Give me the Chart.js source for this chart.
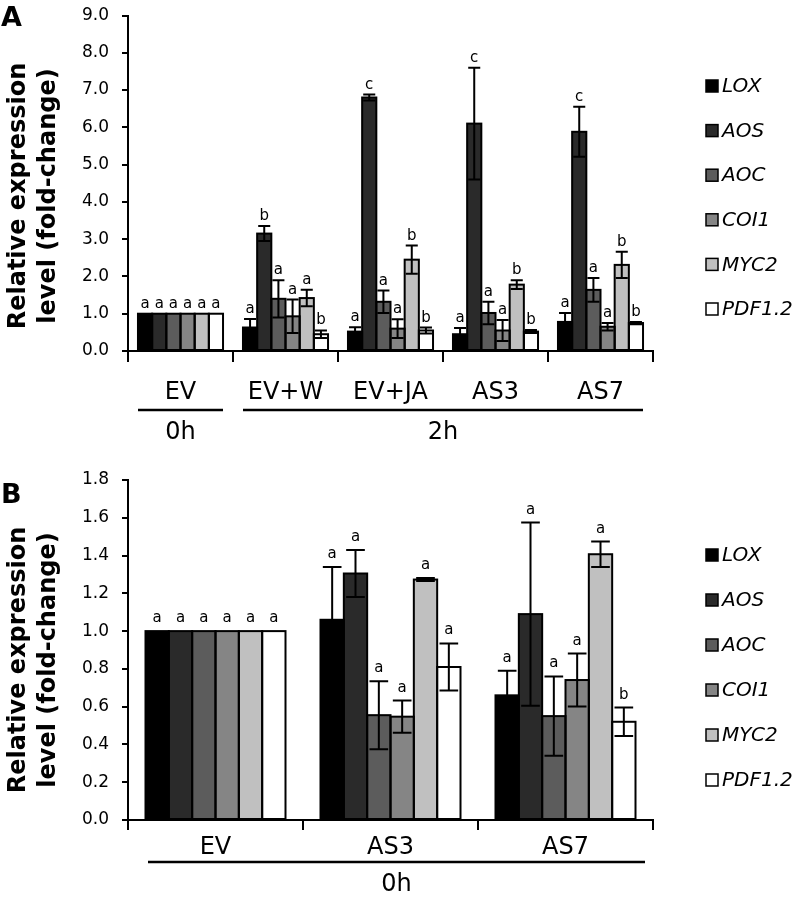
<!DOCTYPE html>
<html><head><meta charset="utf-8">
<script src="https://cdn.jsdelivr.net/npm/chart.js@4.4.1/dist/chart.umd.min.js"></script>
<style>
html,body{margin:0;padding:0;background:#fff;overflow:hidden;}
#cA{position:absolute;left:0;top:0;}
#cB{position:absolute;left:0;top:460px;}
</style></head><body>
<canvas id="cA" width="793" height="460"></canvas>
<canvas id="cB" width="793" height="439"></canvas>
<script>
// ---------- shared ----------
const genes = ['LOX', 'AOS', 'AOC', 'COI1', 'MYC2', 'PDF1.2'];
const geneColors = ['#000000', '#2a2a2a', '#5c5c5c', '#858585', '#c0c0c0', '#ffffff'];
const yTitle = ['Relative expression', 'level (fold-change)'];

// ---------- panel A ----------
const catsA = ['EV', 'EV+W', 'EV+JA', 'AS3', 'AS7'];
const groupsA = [{ label: '0h', from: 0, to: 0 }, { label: '2h', from: 1, to: 4 }];
const yMinA = 0, yMaxA = 9, yStepA = 1;
const loxA  = [1.0, 0.63, 0.52, 0.45, 0.78];
const aosA  = [1.0, 3.15, 6.80, 6.10, 5.88];
const aocA  = [1.0, 1.40, 1.32, 1.02, 1.64];
const coi1A = [1.0, 0.93, 0.60, 0.55, 0.65];
const myc2A = [1.0, 1.42, 2.45, 1.78, 2.31];
const pdfA  = [1.0, 0.45, 0.55, 0.52, 0.75];
const loxErrA  = [0, 0.23, 0.12, 0.17, 0.24];
const aosErrA  = [0, 0.20, 0.08, 1.50, 0.67];
const aocErrA  = [0, 0.50, 0.30, 0.30, 0.32];
const coi1ErrA = [0, 0.45, 0.25, 0.28, 0.10];
const myc2ErrA = [0, 0.22, 0.38, 0.12, 0.35];
const pdfErrA  = [0, 0.10, 0.08, 0.04, 0.03];
const loxSigA  = ['a', 'a', 'a', 'a', 'a'];
const aosSigA  = ['a', 'b', 'c', 'c', 'c'];
const aocSigA  = ['a', 'a', 'a', 'a', 'a'];
const coi1SigA = ['a', 'a', 'a', 'a', 'a'];
const myc2SigA = ['a', 'a', 'b', 'b', 'b'];
const pdfSigA  = ['a', 'b', 'b', 'b', 'b'];

// ---------- panel B ----------
const catsB = ['EV', 'AS3', 'AS7'];
const groupsB = [{ label: '0h', from: 0, to: 2 }];
const yMinB = 0, yMaxB = 1.8, yStepB = 0.2;
const loxB  = [1.0, 1.06, 0.66];
const aosB  = [1.0, 1.305, 1.09];
const aocB  = [1.0, 0.555, 0.55];
const coi1B = [1.0, 0.547, 0.741];
const myc2B = [1.0, 1.273, 1.407];
const pdfB  = [1.0, 0.81, 0.52];
const loxErrB  = [0, 0.28, 0.13];
const aosErrB  = [0, 0.125, 0.485];
const aocErrB  = [0, 0.18, 0.21];
const coi1ErrB = [0, 0.085, 0.14];
const myc2ErrB = [0, 0.008, 0.067];
const pdfErrB  = [0, 0.125, 0.075];
const loxSigB  = ['a', 'a', 'a'];
const aosSigB  = ['a', 'a', 'a'];
const aocSigB  = ['a', 'a', 'a'];
const coi1SigB = ['a', 'a', 'a'];
const myc2SigB = ['a', 'a', 'a'];
const pdfSigB  = ['a', 'a', 'b'];

const FONT = '"DejaVu Sans", "Liberation Sans", sans-serif';

function makeDatasets(vals, errs, sigs) {
  return genes.map((g, i) => ({
    label: g,
    data: vals[i],
    errors: errs[i],
    sig: sigs[i],
    backgroundColor: geneColors[i],
    borderWidth: 0,
    categoryPercentage: 1,
    barPercentage: 1
  }));
}

const extras = {
  id: 'extras',
  afterDatasetsDraw(chart, args, o) {
    const ctx = chart.ctx, ys = chart.scales.y;
    ctx.save();
    ctx.strokeStyle = '#000';
    ctx.lineWidth = 2;
    chart.data.datasets.forEach((ds, di) => {
      chart.getDatasetMeta(di).data.forEach(bar => {
        ctx.strokeRect(bar.x - bar.width / 2, bar.y, bar.width, bar.base - bar.y);
      });
    });
    ctx.fillStyle = '#000';
    ctx.font = o.sigFont;
    ctx.textAlign = 'center';
    ctx.textBaseline = 'alphabetic';
    chart.data.datasets.forEach((ds, di) => {
      chart.getDatasetMeta(di).data.forEach((bar, i) => {
        const v = ds.data[i], e = ds.errors[i];
        let top = ys.getPixelForValue(v);
        if (e > 0) {
          const hi = ys.getPixelForValue(v + e), lo = ys.getPixelForValue(v - e);
          const cw = bar.width * o.capRatio / 2;
          ctx.beginPath();
          ctx.moveTo(bar.x, lo); ctx.lineTo(bar.x, hi);
          ctx.moveTo(bar.x - cw, hi); ctx.lineTo(bar.x + cw, hi);
          ctx.moveTo(bar.x - cw, lo); ctx.lineTo(bar.x + cw, lo);
          ctx.stroke();
          top = hi;
        }
        ctx.fillText(ds.sig[i], bar.x, top - o.sigGap);
      });
    });
    ctx.restore();
  },
  afterDraw(chart, args, o) {
    const ctx = chart.ctx, xs = chart.scales.x;
    ctx.save();
    ctx.fillStyle = '#000';
    ctx.strokeStyle = '#000';
    // legend
    ctx.font = 'italic 20px ' + FONT;
    ctx.textAlign = 'left';
    ctx.textBaseline = 'middle';
    chart.data.datasets.forEach((ds, i) => {
      const cy = o.legendY + i * o.legendStep;
      ctx.fillStyle = ds.backgroundColor;
      ctx.fillRect(o.legendX, cy - 6, 12, 12);
      ctx.lineWidth = 1.5;
      ctx.strokeRect(o.legendX, cy - 6, 12, 12);
      ctx.fillStyle = '#000';
      ctx.fillText(ds.label, o.legendX + 16, cy + 1);
    });
    // group lines and labels
    const half = (xs.getPixelForValue(1) - xs.getPixelForValue(0)) / 2;
    ctx.font = '24px ' + FONT;
    ctx.textAlign = 'center';
    ctx.textBaseline = 'middle';
    ctx.lineWidth = 2.5;
    o.groups.forEach(g => {
      const x1 = xs.getPixelForValue(g.from) - half + o.groupInsetL;
      const x2 = xs.getPixelForValue(g.to) + half - o.groupInsetR;
      ctx.beginPath();
      ctx.moveTo(x1, o.groupLineY); ctx.lineTo(x2, o.groupLineY);
      ctx.stroke();
      ctx.fillText(g.label, (x1 + x2) / 2, o.groupLabelY);
    });
    // y title
    ctx.font = 'bold 24px ' + FONT;
    ctx.textBaseline = 'alphabetic';
    o.titleLines.forEach((t, k) => {
      ctx.save();
      ctx.translate(o.titleX[k], o.titleY);
      ctx.rotate(-Math.PI / 2);
      ctx.fillText(t, 0, 0);
      ctx.restore();
    });
    // panel letter
    ctx.font = 'bold 27px ' + FONT;
    ctx.textAlign = 'left';
    ctx.fillText(o.panel, 1, o.panelY);
    ctx.restore();
  }
};

function makeChart(id, cats, datasets, yMin, yMax, yStep, dec, pad, xH, catPct, ex) {
  return new Chart(document.getElementById(id), {
    type: 'bar',
    data: { labels: cats, datasets: datasets.map(d => Object.assign(d, { categoryPercentage: catPct })) },
    options: {
      responsive: false,
      animation: false,
      layout: { padding: pad },
      plugins: { legend: { display: false }, tooltip: { enabled: false }, extras: ex },
      scales: {
        x: {
          offset: true,
          grid: { display: true, drawOnChartArea: false, drawTicks: true, tickLength: ex.xTick, color: '#000', lineWidth: 2, offset: true },
          border: { display: true, color: '#000', width: 2 },
          ticks: { font: { family: FONT, size: 24 }, color: '#000', padding: ex.xLabelPad, maxRotation: 0, autoSkip: false },
          afterFit: s => { s.height = xH; s.paddingLeft = 0; s.paddingRight = 0; s.paddingTop = 0; s.paddingBottom = 0; }
        },
        y: {
          min: yMin, max: yMax,
          grid: { display: true, drawOnChartArea: false, drawTicks: true, tickLength: 6, color: '#000', lineWidth: 2 },
          border: { display: true, color: '#000', width: 2 },
          ticks: { stepSize: yStep, font: { family: FONT, size: 17 }, color: '#000', padding: 13,
                   callback: v => Number(v).toFixed(dec) },
          afterFit: s => { s.width = 128; s.paddingTop = 0; s.paddingBottom = 0; s.paddingLeft = 0; s.paddingRight = 0; }
        }
      }
    },
    plugins: [extras]
  });
}

makeChart('cA', catsA,
  makeDatasets([loxA, aosA, aocA, coi1A, myc2A, pdfA],
               [loxErrA, aosErrA, aocErrA, coi1ErrA, myc2ErrA, pdfErrA],
               [loxSigA, aosSigA, aocSigA, coi1SigA, myc2SigA, pdfSigA]),
  yMinA, yMaxA, yStepA, 1,
  { top: 15.5, left: 0, right: 140, bottom: 0 }, 109, 0.81,
  { capRatio: 0.85, sigGap: 6, sigFont: '15px ' + FONT, legendX: 706, legendY: 86, legendStep: 44.6,
    groups: groupsA, groupInsetL: 10, groupInsetR: 10, groupLineY: 410, groupLabelY: 433,
    titleLines: yTitle, titleX: [25, 55], titleY: 196, panel: 'A', panelY: 26, xTick: 11, xLabelPad: 16 });

makeChart('cB', catsB,
  makeDatasets([loxB, aosB, aocB, coi1B, myc2B, pdfB],
               [loxErrB, aosErrB, aocErrB, coi1ErrB, myc2ErrB, pdfErrB],
               [loxSigB, aosSigB, aocSigB, coi1SigB, myc2SigB, pdfSigB]),
  yMinB, yMaxB, yStepB, 1,
  { top: 20, left: 0, right: 140, bottom: 0 }, 79, 0.8,
  { capRatio: 0.8, sigGap: 9, sigFont: '15px ' + FONT, legendX: 706, legendY: 95, legendStep: 45,
    groups: groupsB, groupInsetL: 20, groupInsetR: 8, groupLineY: 402, groupLabelY: 425,
    titleLines: yTitle, titleX: [25, 55], titleY: 200, panel: 'B', panelY: 43, xTick: 10, xLabelPad: 3 });
</script>
</body></html>
